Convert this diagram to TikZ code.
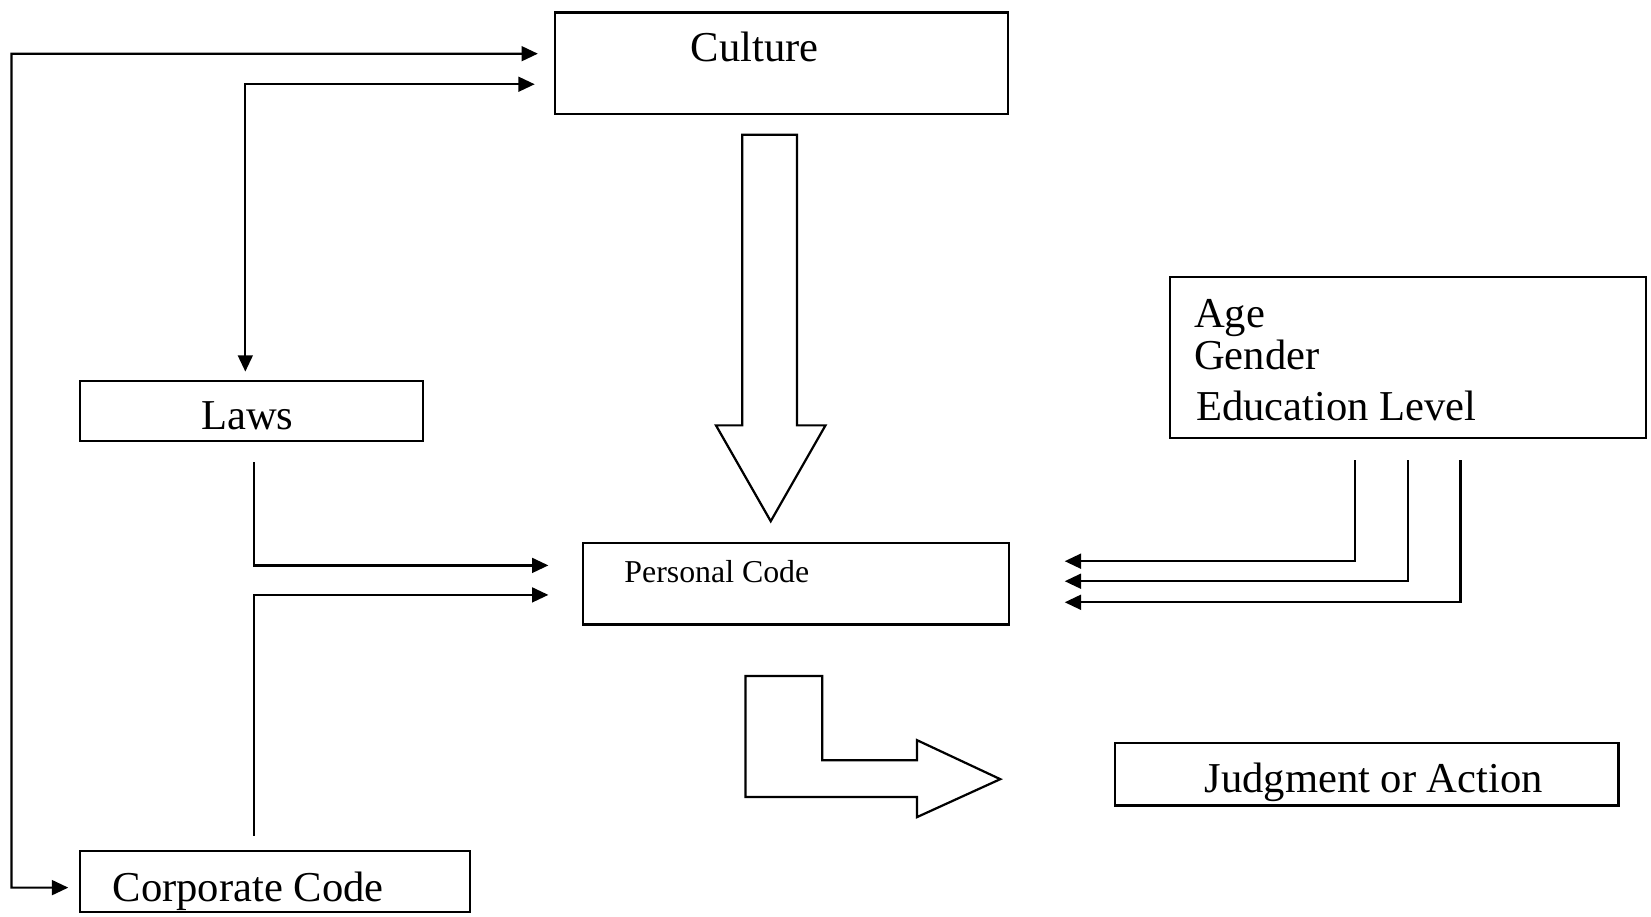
\documentclass[tikz,border=0pt]{standalone}
\usepackage{fontspec}
\setmainfont{Liberation Serif}
\usepackage{tikz}
\tikzset{
    box/.style={rectangle,draw=black,line width=0.6pt,inner sep=0pt},
    txt/.style={inner sep=0pt,anchor=base west,font=\fontsize{11.5}{13}\selectfont},
    small/.style={inner sep=0pt,anchor=base west,font=\fontsize{8.6}{10}\selectfont},
    block/.style={draw=black,line width=0.6pt,line join=miter},
}
\usetikzlibrary{arrows.meta,positioning}

\begin{document}
\begin{tikzpicture}[x=0.01cm,y=-0.01cm,>={Triangle[length=4.4pt,width=4pt]},line width=0.6pt]
\useasboundingbox (0,0) rectangle (1568,870);
\node[box,minimum width=4.30cm,minimum height=0.96cm](culture) at (742,60) {};
\node[box,minimum width=3.26cm,minimum height=0.57cm](laws) at (239,390.5) {};
\node[box,minimum width=3.70cm,minimum height=0.58cm](corporate) at (261,837) {};
\node[box,minimum width=4.04cm,minimum height=0.77cm](personal) at (756,554.5) {};
\node[box,minimum width=4.52cm,minimum height=1.53cm](age) at (1337,339.5) {};
\node[box,minimum width=4.78cm,minimum height=0.59cm](judgment) at (1298,735.5) {};
\node[txt](cultureT) at (655,58) {Culture};
\node[txt](lawsT) at (190,408) {Laws};
\node[txt](corporateT) at (106,856) {Corporate Code};
\node[small](personalT) at (592,553) {Personal Code};
\node[txt](ageT) at (1133,311) {Age};
\node[txt](genderT) at (1133,351) {Gender};
\node[txt](eduT) at (1135,399) {Education Level};
\node[txt](judgmentT) at (1143,753) {Judgment or Action};
\draw[<->] ([xshift=-1.5mm,yshift=0.9mm]culture.west) -| (11,843) -- ([xshift=-1mm,yshift=-0.6mm]corporate.west);
\draw[<->] ([xshift=-1.8mm,yshift=-2mm]culture.west) -| ([xshift=-0.6mm,yshift=0.8mm]laws.north);
\draw[->] ([xshift=0.2mm,yshift=-1.9mm]laws.south) |- ([xshift=-3.2mm,yshift=1.75mm]personal.west);
\draw[->] ([xshift=-2mm,yshift=1.3mm]corporate.north) |- ([xshift=-3.2mm,yshift=-1.05mm]personal.west);
\foreach \dx/\dy in {-0.5/0.215,0/0.025,0.5/-0.175}
  \draw[->] ([xshift=\dx cm,yshift=-2mm]age.south) |- ([xshift=5.2mm,yshift=\dy cm]personal.east);
\draw[block] (705,128) -- (757,128) -- (757,404) -- (784,404) -- (732,495) -- (680,404) -- (705,404) -- cycle;
\draw[block] (708,642) -- (781,642) -- (781,722) -- (871,722) -- (871,703) -- (950,740) -- (871,776) -- (871,757) -- (708,757) -- cycle;
\end{tikzpicture}
\end{document}
